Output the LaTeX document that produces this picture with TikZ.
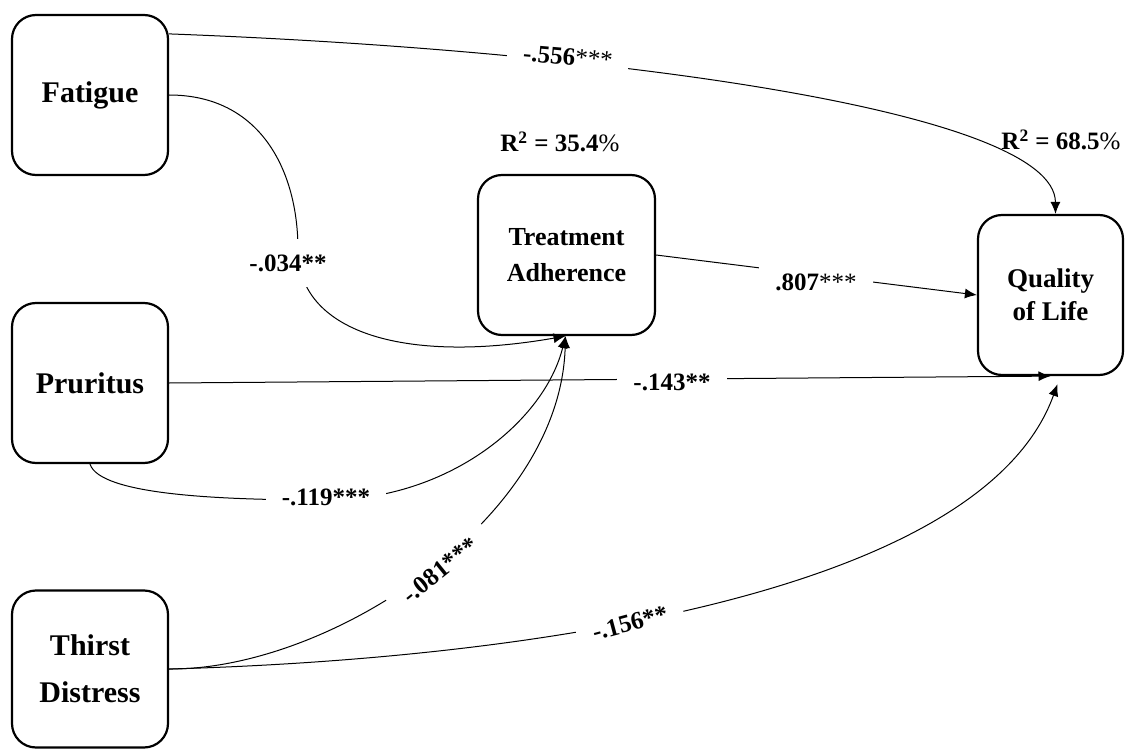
\documentclass[tikz,border=0pt]{standalone}
\usepackage{fontspec}
\setmainfont{Liberation Serif}
\usepackage{tikz}
\usetikzlibrary{arrows.meta}
\tikzstyle{varbox}=[draw, line width=1.1pt, rounded corners=12pt, align=center, inner sep=0pt]
\tikzstyle{coef}=[fill=white, inner sep=8pt, font=\bfseries\fontsize{12.5}{14}\selectfont]
\tikzstyle{rsq}=[font=\bfseries\fontsize{12.5}{14}\selectfont]
\tikzstyle{link}=[line width=0.5pt, -{Latex[length=6pt,width=5pt]}]

\begin{document}
\begin{tikzpicture}[x=0.5pt, y=-0.5pt]
\useasboundingbox[fill=white] (0,0) rectangle (1125,749);
% variables
\node[varbox, minimum width=78pt, minimum height=80pt, font=\bfseries\fontsize{15}{18}\selectfont] (fat) at (90,95) {Fatigue};
\node[varbox, minimum width=78pt, minimum height=80pt, font=\bfseries\fontsize{15}{18}\selectfont] (pru) at (90,383) {Pruritus};
\node[varbox, minimum width=78pt, minimum height=78.5pt, font=\bfseries\fontsize{15}{23.5}\selectfont] (thi) at (90,669) {Thirst\\Distress};
\node[varbox, minimum width=88.5pt, minimum height=80pt, font=\bfseries\fontsize{13}{18}\selectfont] (tre) at (566.5,255) {Treatment\\Adherence};
\node[varbox, minimum width=72.5pt, minimum height=80pt, font=\bfseries\fontsize{13.5}{16.5}\selectfont] (qol) at (1050.5,295) {Quality\\of Life};
% paths
\draw[link] ([yshift=-10pt]fat.north east) .. controls (600,50) and (1055,110) .. ([xshift=2.5pt]qol.north);
\draw[link] (fat.east) .. controls (260,95) and (298,170) .. (298,250) .. controls (298,330) and (400,365) .. ([xshift=-0.5pt]tre.south);
\draw[link] (pru.south) .. controls (100,495) and (220,500) .. (326,500) .. controls (450,500) and (545,420) .. ([xshift=-0.5pt]tre.south);
\draw[link] (thi.east) .. controls (330,670) and (560,520) .. ([xshift=-0.5pt]tre.south);
\draw[link] (pru.east) -- (qol.south);
\draw[link] (thi.east) .. controls (500,660) and (980,600) .. ([xshift=3.5pt,yshift=-4pt]qol.south);
\draw[link] (tre.east) -- (qol.west);
% coefficients
\node[coef, rotate=-5] (c556) at (568,57) {-.556\textmd{***}};
\node[coef] (c034) at (288,263) {-.034**};
\node[coef] (c807) at (816,282) {.807\textmd{***}};
\node[coef] (c143) at (672,382) {-.143**};
\node[coef] (c119) at (326,497) {-.119***};
\node[coef, rotate=39] (c081) at (440,570) {-.081***};
\node[coef, rotate=15] (c156) at (630,623) {-.156**};
\node[rsq] (r2tre) at (560,142) {R\textsuperscript{2} = 35.4\textmd{\%}};
\node[rsq] (r2qol) at (1061,140) {R\textsuperscript{2} = 68.5\textmd{\%}};
\end{tikzpicture}
\end{document}
